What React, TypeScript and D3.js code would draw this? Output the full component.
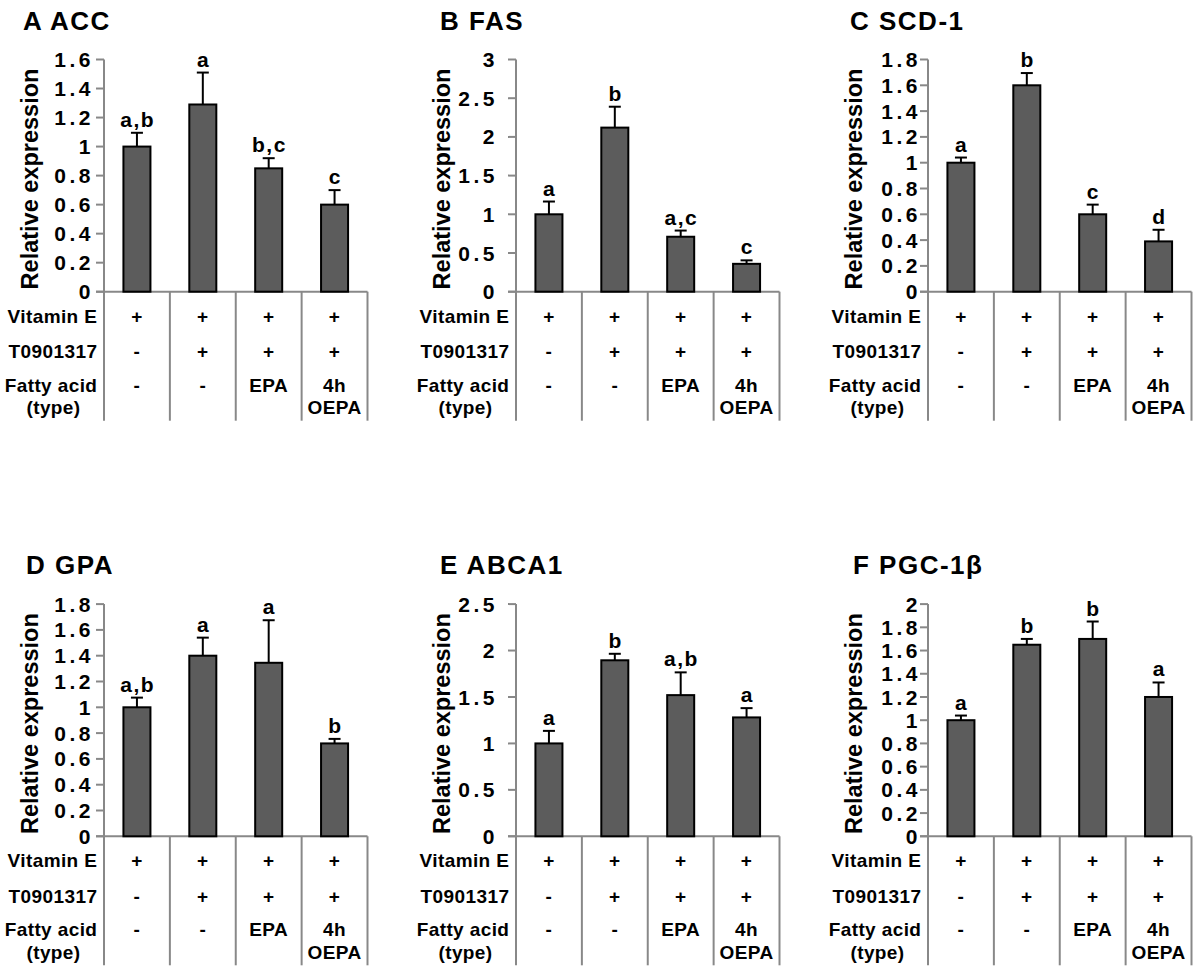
import React from 'react';
import * as d3 from 'd3';

// ---------- data ----------
const GROUPS = ['VE', 'VE+T0901317', 'VE+T0901317+EPA', 'VE+T0901317+4h OEPA'];

const TITLES = ['A ACC', 'B FAS', 'C SCD-1', 'D GPA', 'E ABCA1', 'F PGC-1β'];

const ACC_MEAN = [1.0, 1.29, 0.85, 0.6];
const ACC_ERR = [0.095, 0.22, 0.07, 0.1];
const ACC_LETTERS = ['a,b', 'a', 'b,c', 'c'];

const FAS_MEAN = [1.0, 2.12, 0.71, 0.36];
const FAS_ERR = [0.165, 0.27, 0.08, 0.045];
const FAS_LETTERS = ['a', 'b', 'a,c', 'c'];

const SCD1_MEAN = [1.0, 1.6, 0.6, 0.39];
const SCD1_ERR = [0.04, 0.095, 0.075, 0.09];
const SCD1_LETTERS = ['a', 'b', 'c', 'd'];

const GPA_MEAN = [1.0, 1.4, 1.345, 0.72];
const GPA_ERR = [0.075, 0.14, 0.33, 0.035];
const GPA_LETTERS = ['a,b', 'a', 'a', 'b'];

const ABCA1_MEAN = [1.0, 1.895, 1.52, 1.28];
const ABCA1_ERR = [0.135, 0.07, 0.245, 0.1];
const ABCA1_LETTERS = ['a', 'b', 'a,b', 'a'];

const PGC_MEAN = [1.0, 1.65, 1.7, 1.2];
const PGC_ERR = [0.04, 0.05, 0.15, 0.125];
const PGC_LETTERS = ['a', 'b', 'b', 'a'];

const ACC_TICKS = [0, 0.2, 0.4, 0.6, 0.8, 1, 1.2, 1.4, 1.6];
const FAS_TICKS = [0, 0.5, 1, 1.5, 2, 2.5, 3];
const SCD1_TICKS = [0, 0.2, 0.4, 0.6, 0.8, 1, 1.2, 1.4, 1.6, 1.8];
const GPA_TICKS = [0, 0.2, 0.4, 0.6, 0.8, 1, 1.2, 1.4, 1.6, 1.8];
const ABCA1_TICKS = [0, 0.5, 1, 1.5, 2, 2.5];
const PGC_TICKS = [0, 0.2, 0.4, 0.6, 0.8, 1, 1.2, 1.4, 1.6, 1.8, 2];

const Y_LABEL = 'Relative expression';

const ROW_LABELS = ['Vitamin E', 'T0901317', 'Fatty acid', '(type)'];
const VITAMIN_E = ['+', '+', '+', '+'];
const T0901317 = ['-', '+', '+', '+'];
const FATTY_ACID = [['-'], ['-'], ['EPA'], ['4h', 'OEPA']];

const PANELS = [
  { title: TITLES[0], mean: ACC_MEAN, err: ACC_ERR, letters: ACC_LETTERS, ticks: ACC_TICKS },
  { title: TITLES[1], mean: FAS_MEAN, err: FAS_ERR, letters: FAS_LETTERS, ticks: FAS_TICKS },
  { title: TITLES[2], mean: SCD1_MEAN, err: SCD1_ERR, letters: SCD1_LETTERS, ticks: SCD1_TICKS },
  { title: TITLES[3], mean: GPA_MEAN, err: GPA_ERR, letters: GPA_LETTERS, ticks: GPA_TICKS },
  { title: TITLES[4], mean: ABCA1_MEAN, err: ABCA1_ERR, letters: ABCA1_LETTERS, ticks: ABCA1_TICKS },
  { title: TITLES[5], mean: PGC_MEAN, err: PGC_ERR, letters: PGC_LETTERS, ticks: PGC_TICKS },
];

// ---------- layout ----------
const W = 1200;
const H = 973;
const COL_AXIS_X = [104, 516, 928];
const ROW_ZERO_Y = [291.7, 836.3];
const PLOT_W = 263.5;
const PLOT_H = 232.2;
const TICK_LABEL_GAP = [13.5, 21.5, 10.5];
const TITLE_POS = [
  [23, 30], [440, 30], [850, 30],
  [26, 574], [440, 574], [853, 574],
];
const FONT = '"Liberation Sans", Arial, Helvetica, sans-serif';
const AXIS_COLOR = '#888888';
const BAR_FILL = '#5c5c5c';
const TICK_LS = 3.5;
const TABLE_LS = 0.4;
const fmt = (v: number) => String(+v.toFixed(1));

function Panel({ idx }: { idx: number }) {
  const p = PANELS[idx];
  const col = idx % 3;
  const row = Math.floor(idx / 3);
  const x0 = COL_AXIS_X[col];
  const y0 = ROW_ZERO_Y[row];
  const yMax = p.ticks[p.ticks.length - 1];

  const x = d3.scaleBand<string>().domain(GROUPS).range([x0, x0 + PLOT_W]).paddingInner(0.59).paddingOuter(0.295);
  const y = d3.scaleLinear().domain([0, yMax]).range([y0, y0 - PLOT_H]);
  const step = x.step();
  const bw = x.bandwidth();
  const tableBottom = y0 + 129;
  const rowY = [y0 + 31, y0 + 66.5, y0 + 100, y0 + 122.5];
  const [tx, ty] = TITLE_POS[idx];

  return (
    <g>
      <text x={tx} y={ty} fontSize={26} fontWeight="bold" letterSpacing={1.5} fill="#000">{p.title}</text>
      {/* y title */}
      <text
        transform={`translate(${x0 - 66},${y0 - 112.7}) rotate(-90)`}
        textAnchor="middle"
        fontSize={23.5}
        fontWeight="bold"
      >
        {Y_LABEL}
      </text>
      {/* ticks */}
      {p.ticks.map((t) => (
        <g key={t}>
          <line x1={x0 - 8} x2={x0} y1={y(t)} y2={y(t)} stroke={AXIS_COLOR} strokeWidth={2} />
          <text
            x={x0 - TICK_LABEL_GAP[col] + TICK_LS}
            y={y(t)}
            dy="0.36em"
            textAnchor="end"
            fontSize={21}
            fontWeight="bold"
            letterSpacing={TICK_LS}
          >
            {fmt(t)}
          </text>
        </g>
      ))}
      {/* y axis line + first divider */}
      <line x1={x0} x2={x0} y1={y(yMax)} y2={tableBottom} stroke={AXIS_COLOR} strokeWidth={2} />
      {/* x axis */}
      <line x1={x0 - 8} x2={x0 + PLOT_W} y1={y0} y2={y0} stroke={AXIS_COLOR} strokeWidth={2} />
      {GROUPS.map((g, i) => (
        <line
          key={'div' + g}
          x1={x0 + step * (i + 1)}
          x2={x0 + step * (i + 1)}
          y1={y0}
          y2={tableBottom}
          stroke={AXIS_COLOR}
          strokeWidth={2}
        />
      ))}
      {/* bars */}
      {GROUPS.map((g, i) => {
        const bx = x(g)!;
        const cx = bx + bw / 2;
        const top = y(p.mean[i]);
        const eTop = y(p.mean[i] + p.err[i]);
        return (
          <g key={'bar' + g}>
            <line x1={cx} x2={cx} y1={top} y2={eTop} stroke="#000" strokeWidth={2} />
            <line x1={cx - 6} x2={cx + 6} y1={eTop} y2={eTop} stroke="#000" strokeWidth={2} />
            <rect x={bx} y={top} width={bw} height={y0 - top} fill={BAR_FILL} stroke="#000" strokeWidth={2} />
            <text x={cx + 0.75} y={eTop - 6} textAnchor="middle" fontSize={21} fontWeight="bold" letterSpacing={1.5}>
              {p.letters[i]}
            </text>
          </g>
        );
      })}
      {/* table */}
      <g fontSize={19} fontWeight="bold" letterSpacing={TABLE_LS}>
        <text x={x0 - 7 + TABLE_LS} y={rowY[0]} textAnchor="end">{ROW_LABELS[0]}</text>
        <text x={x0 - 7 + TABLE_LS} y={rowY[1]} textAnchor="end">{ROW_LABELS[1]}</text>
        <text x={x0 - 7 + TABLE_LS} y={rowY[2]} textAnchor="end">{ROW_LABELS[2]}</text>
        <text x={x0 - 50.5} y={rowY[3]} textAnchor="middle">{ROW_LABELS[3]}</text>
        {GROUPS.map((g, i) => {
          const cx = x(g)! + bw / 2;
          return (
            <g key={'tb' + g} textAnchor="middle">
              <text x={cx} y={rowY[0]}>{VITAMIN_E[i]}</text>
              <text x={cx} y={rowY[1]}>{T0901317[i]}</text>
              {FATTY_ACID[i].map((s, k) => (
                <text key={k} x={cx} y={rowY[2 + k]}>{s}</text>
              ))}
            </g>
          );
        })}
      </g>
    </g>
  );
}

export default function App() {
  return (
    <svg
      width={W}
      height={H}
      viewBox={`0 0 ${W} ${H}`}
      style={{ position: 'absolute', left: 0, top: 0, background: '#fff' }}
      fontFamily={FONT}
    >
      <rect width={W} height={H} fill="#fff" />
      {PANELS.map((_, i) => (
        <Panel key={i} idx={i} />
      ))}
    </svg>
  );
}
